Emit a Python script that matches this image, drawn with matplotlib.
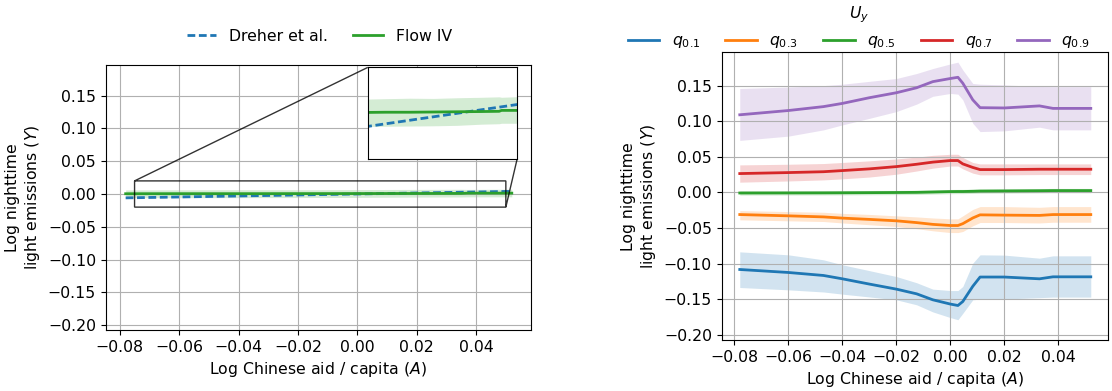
import numpy as np
import matplotlib
matplotlib.use("Agg")
import matplotlib.pyplot as plt

plt.rcParams["font.size"] = 11.3
plt.rcParams["lines.linewidth"] = 2.0

# left panel: Dreher et al. linear fit vs Flow IV
x_dreher = [-0.078, 0.052]
y_dreher = [-0.0059, 0.0040]

x_flow = [-0.078, -0.06, -0.04, -0.02, 0.0, 0.02, 0.035, 0.037, 0.052]
y_flow = [0.0004, 0.0005, 0.0005, 0.0006, 0.0007, 0.0008, 0.0009, 0.0013, 0.0013]
flow_hi = [0.0062, 0.0064, 0.0066, 0.0065, 0.0068, 0.0070, 0.0072, 0.0070, 0.0073]
flow_lo = [-0.0057, -0.0056, -0.0055, -0.0054, -0.0052, -0.0047, -0.0045, -0.0043, -0.0043]

# right panel: quantiles of U_y
x_q = [-0.078, -0.06, -0.047, -0.04, -0.03, -0.02, -0.0125, -0.0065, 0.0,
       0.0028, 0.0046, 0.0083, 0.011, 0.02, 0.033, 0.038, 0.052]

q_labels = ["$q_{0.1}$", "$q_{0.3}$", "$q_{0.5}$", "$q_{0.7}$", "$q_{0.9}$"]

q01 = [-0.1084, -0.1126, -0.1168, -0.1215, -0.1289, -0.136, -0.1426, -0.151, -0.157,
       -0.159, -0.1534, -0.132, -0.119, -0.119, -0.1215, -0.1187, -0.1187]
q01_hi = [-0.0836, -0.0878, -0.0948, -0.1018, -0.110, -0.1183, -0.127, -0.136, -0.138,
          -0.138, -0.1323, -0.0995, -0.0878, -0.0882, -0.0925, -0.0892, -0.0892]
q01_lo = [-0.1337, -0.137, -0.140, -0.143, -0.147, -0.151, -0.158, -0.168, -0.176,
          -0.179, -0.170, -0.151, -0.150, -0.1498, -0.148, -0.1472, -0.1472]

q03 = [-0.0312, -0.033, -0.0345, -0.0362, -0.038, -0.040, -0.0425, -0.045, -0.0466,
       -0.0466, -0.044, -0.036, -0.0316, -0.032, -0.0324, -0.0312, -0.0312]
q03_hi = [-0.0256, -0.027, -0.028, -0.0295, -0.031, -0.033, -0.0345, -0.036, -0.0372,
          -0.0372, -0.033, -0.024, -0.020, -0.020, -0.021, -0.020, -0.020]
q03_lo = [-0.0386, -0.040, -0.041, -0.043, -0.0455, -0.048, -0.051, -0.054, -0.0565,
          -0.0565, -0.055, -0.047, -0.0424, -0.0424, -0.043, -0.042, -0.042]

q05 = [-0.0009, -0.0008, -0.0007, -0.0006, -0.0004, -0.0002, 0.0, 0.0005, 0.0011,
       0.0012, 0.0012, 0.0015, 0.0018, 0.002, 0.0023, 0.0025, 0.0025]
q05_hi = [0.0021, 0.0022, 0.0023, 0.0024, 0.0026, 0.0028, 0.003, 0.0035, 0.0041,
          0.0042, 0.0042, 0.0045, 0.0048, 0.005, 0.0053, 0.0055, 0.0055]
q05_lo = [-0.0039, -0.0038, -0.0037, -0.0036, -0.0034, -0.0032, -0.003, -0.0025, -0.0019,
          -0.0018, -0.0018, -0.0015, -0.0012, -0.001, -0.0007, -0.0005, -0.0005]

q07 = [0.0264, 0.0278, 0.029, 0.0306, 0.033, 0.0362, 0.0395, 0.0425, 0.0447,
       0.0447, 0.040, 0.035, 0.032, 0.032, 0.0325, 0.0325, 0.0325]
q07_hi = [0.0386, 0.0395, 0.0405, 0.042, 0.0443, 0.047, 0.0495, 0.052, 0.0535,
          0.0535, 0.049, 0.042, 0.040, 0.040, 0.040, 0.040, 0.040]
q07_lo = [0.0143, 0.016, 0.0175, 0.019, 0.0215, 0.0255, 0.030, 0.034, 0.037,
          0.037, 0.033, 0.027, 0.0246, 0.0246, 0.025, 0.025, 0.025]

q09 = [0.109, 0.115, 0.1205, 0.125, 0.133, 0.140, 0.147, 0.1556, 0.160,
       0.1617, 0.1534, 0.130, 0.119, 0.1186, 0.1215, 0.118, 0.118]
q09_hi = [0.146, 0.148, 0.150, 0.152, 0.156, 0.160, 0.167, 0.174, 0.1805,
          0.183, 0.172, 0.153, 0.152, 0.151, 0.1488, 0.1486, 0.1486]
q09_lo = [0.073, 0.079, 0.0878, 0.0948, 0.104, 0.1135, 0.124, 0.135, 0.139,
          0.138, 0.130, 0.097, 0.0854, 0.0864, 0.0916, 0.0878, 0.0878]

quantiles = [(q01, q01_lo, q01_hi), (q03, q03_lo, q03_hi), (q05, q05_lo, q05_hi),
             (q07, q07_lo, q07_hi), (q09, q09_lo, q09_hi)]

xlim = (-0.0847, 0.0585)
ylim = (-0.2075, 0.1968)
xticks = [-0.08, -0.06, -0.04, -0.02, 0.0, 0.02, 0.04]
yticks = [-0.20, -0.15, -0.10, -0.05, 0.0, 0.05, 0.10, 0.15]
ylabel = "Log nighttime\nlight emissions ($Y$)"
xlabel = "Log Chinese aid / capita ($A$)"

fig = plt.figure(figsize=(11.12, 3.91), dpi=100)
ax1 = fig.add_axes([0.0951, 0.156, 0.3825, 0.6777])
ax2 = fig.add_axes([0.649, 0.1304, 0.3477, 0.7358])


def draw_left(ax):
    ax.plot(x_dreher, y_dreher, "--", dashes=(2.8, 1.3), color="C0", label="Dreher et al.")
    ax.plot(x_flow, y_flow, color="C2", label="Flow IV")
    ax.fill_between(x_flow, flow_lo, flow_hi, color="C2", alpha=0.2, lw=0)


def style(ax):
    ax.set_xlim(xlim)
    ax.set_ylim(ylim)
    ax.set_xticks(xticks)
    ax.set_yticks(yticks)
    ax.grid(True)
    ax.set_xlabel(xlabel)
    ax.set_ylabel(ylabel)


draw_left(ax1)
style(ax1)

axins = ax1.inset_axes([0.616, 0.644, 0.351, 0.347])
draw_left(axins)
axins.set_xlim(-0.075, 0.05)
axins.set_ylim(-0.02, 0.02)
axins.set_xticks([])
axins.set_yticks([])
ax1.indicate_inset_zoom(axins, edgecolor="black", alpha=0.8)

fig.legend(*ax1.get_legend_handles_labels(), loc="center", ncol=2, frameon=False,
           handlelength=1.9, columnspacing=1.6, bbox_to_anchor=(0.287, 0.907))

for i, (line, lo, hi) in enumerate(quantiles):
    ax2.plot(x_q, line, color=f"C{i}", label=q_labels[i])
    ax2.fill_between(x_q, lo, hi, color=f"C{i}", alpha=0.2, lw=0)
style(ax2)
fig.legend(*ax2.get_legend_handles_labels(), loc="center", ncol=5, frameon=False,
           columnspacing=1.6, title="$U_y$", bbox_to_anchor=(0.7725, 0.93))

fig.savefig("out.png", dpi=100)
